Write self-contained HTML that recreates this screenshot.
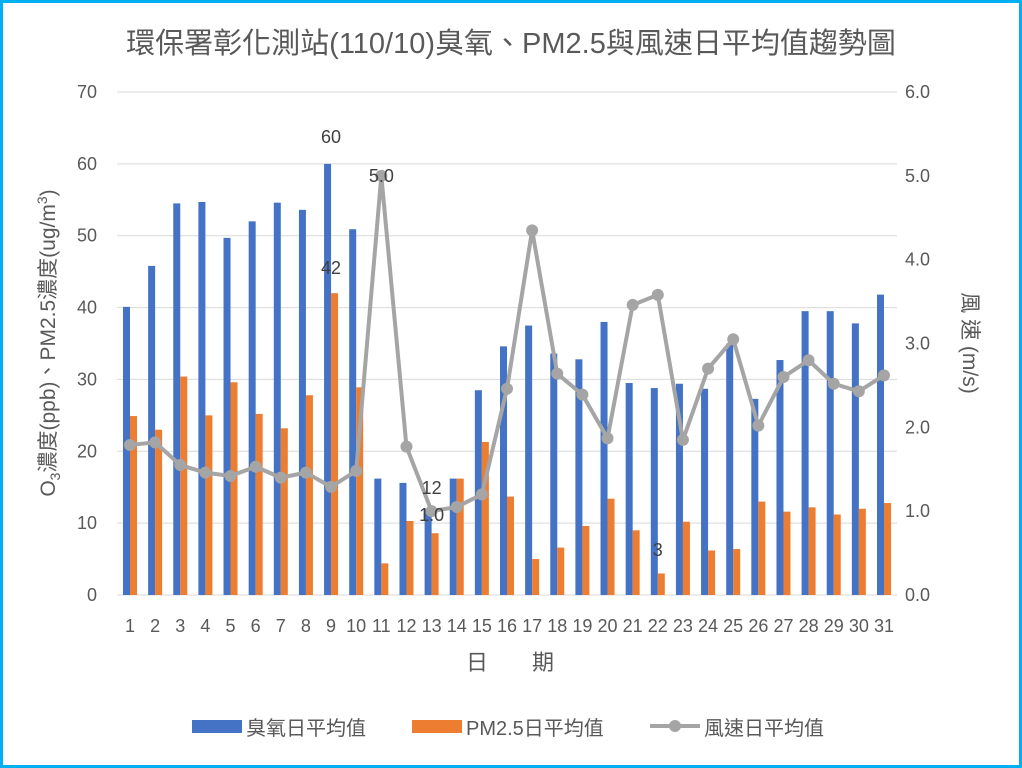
<!DOCTYPE html>
<html><head><meta charset="utf-8">
<style>
html,body{margin:0;padding:0;background:#fff;}
svg{display:block;font-family:"Liberation Sans","Noto Sans CJK TC",sans-serif;}
</style></head>
<body>
<svg width="1022" height="768" xmlns="http://www.w3.org/2000/svg">
<rect x="1.5" y="1.5" width="1019" height="765" fill="#fff" stroke="#00b0f0" stroke-width="3"/>
<text x="511" y="53" font-size="29" fill="#595959" text-anchor="middle">環保署彰化測站(110/10)臭氧、PM2.5與風速日平均值趨勢圖</text>
<g id="grid" stroke="#d9d9d9" stroke-width="1"></g>
<g id="bars"></g>
<g id="line"></g>
<g id="labels" font-size="18" fill="#595959"></g>
<text transform="translate(55,343) rotate(-90)" font-size="21" fill="#595959" text-anchor="middle">O<tspan font-size="14" dy="5">3</tspan><tspan dy="-5">濃度(ppb)、PM2.5濃度(ug/m</tspan><tspan font-size="14" dy="-8">3</tspan><tspan dy="8">)</tspan></text>
<text transform="translate(963,343) rotate(90)" font-size="21" fill="#595959" text-anchor="middle">風 速 (m/s)</text>
<text x="510" y="670" font-size="22" fill="#595959" text-anchor="middle">日　　期</text>
<g font-size="20" fill="#595959">
<rect x="192" y="720" width="50" height="13" fill="#4472c4"/><text x="246" y="735">臭氧日平均值</text>
<rect x="412" y="720" width="50" height="13" fill="#ed7d31"/><text x="466" y="735">PM2.5日平均值</text>
<line x1="650" y1="726" x2="700" y2="726" stroke="#a5a5a5" stroke-width="4"/><circle cx="675" cy="726" r="6" fill="#a5a5a5"/><text x="704" y="735">風速日平均值</text>
</g>
<script>
var o3=[40.1,45.8,54.5,54.7,49.7,52,54.6,53.6,60,50.9,16.2,15.6,12,16.2,28.5,34.6,37.5,33.6,32.8,38,29.5,28.8,29.4,28.7,35,27.3,32.7,39.5,39.5,37.8,41.8];
var pm=[24.9,23,30.4,25,29.6,25.2,23.2,27.8,42,28.9,4.4,10.3,8.6,16.2,21.3,13.7,5,6.6,9.6,13.4,9,3,10.2,6.2,6.4,13,11.6,12.2,11.2,12,12.8];
var ws=[1.79,1.82,1.55,1.46,1.42,1.53,1.40,1.46,1.29,1.48,5.0,1.77,1.0,1.05,1.2,2.46,4.35,2.64,2.39,1.87,3.46,3.58,1.85,2.70,3.05,2.02,2.6,2.8,2.52,2.43,2.62];
var NS="http://www.w3.org/2000/svg";
function el(p,t,a,txt){var e=document.createElementNS(NS,t);for(var k in a)e.setAttribute(k,a[k]);if(txt!=null)e.textContent=txt;document.getElementById(p).appendChild(e);return e;}
var y0=595,pl=(595-92)/70,pr=(595-92)/6,x1=130,dx=(884-130)/30;
for(var i=0;i<=7;i++){var y=y0-i*10*pl;el("grid","line",{x1:117,x2:897,y1:y,y2:y});
el("labels","text",{x:97,y:y+6,"text-anchor":"end"},i*10);}
for(var i=0;i<=6;i++){var y=y0-i*pr;el("labels","text",{x:905,y:y+6},i.toFixed(1));}
var pts=[];
for(var d=0;d<31;d++){var cx=x1+d*dx;
el("bars","rect",{x:cx-7,y:y0-o3[d]*pl,width:7,height:o3[d]*pl,fill:"#4472c4"});
el("bars","rect",{x:cx,y:y0-pm[d]*pl,width:7,height:pm[d]*pl,fill:"#ed7d31"});
el("labels","text",{x:cx,y:632,"text-anchor":"middle"},d+1);
pts.push(cx+","+(y0-ws[d]*pr));}
el("line","polyline",{points:pts.join(" "),fill:"none",stroke:"#a5a5a5","stroke-width":4,"stroke-linejoin":"round"});
for(var d=0;d<31;d++){var c=pts[d].split(",");el("line","circle",{cx:c[0],cy:c[1],r:6,fill:"#a5a5a5"});}
var L=[[9,143,"60"],[9,274,"42"],[11,182,"5.0"],[13,494,"12"],[13,521,"1.0"],[22,556,"3"]];
L.forEach(function(l){el("labels","text",{x:x1+(l[0]-1)*dx,y:l[1],"text-anchor":"middle",fill:"#404040"},l[2]);});
</script>
</svg>
</body></html>
